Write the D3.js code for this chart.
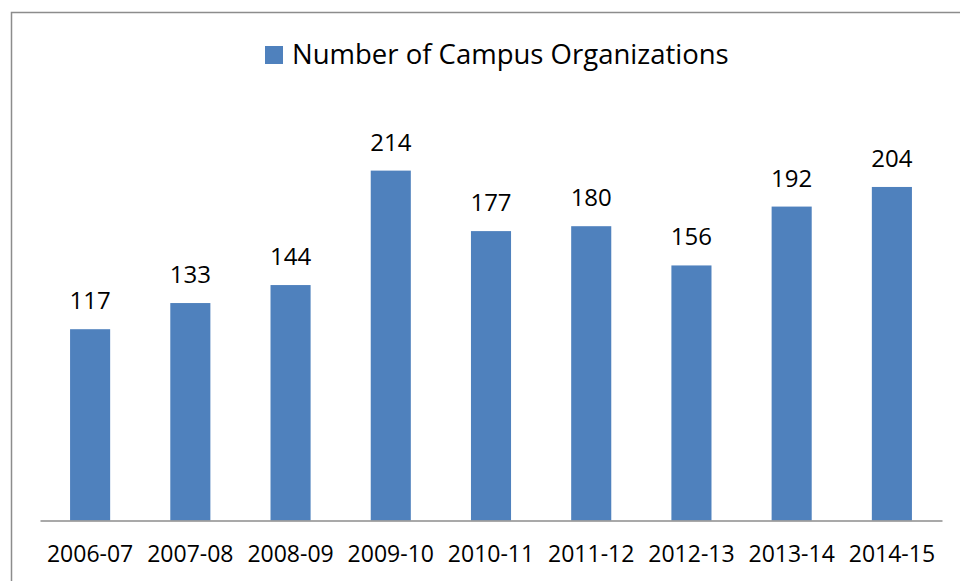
<!DOCTYPE html>
<html>
<head>
<meta charset="utf-8">
<script src="https://cdn.jsdelivr.net/npm/d3@7"></script>
<style>
  body { margin: 0; background: #fff; }
  svg text { font-family: "Open Sans", "Noto Sans", sans-serif; fill: #000; }
</style>
</head>
<body>
<div id="chart"></div>
<script>
const W = 960, H = 581;

const seasons = ["2006-07", "2007-08", "2008-09", "2009-10", "2010-11", "2011-12", "2012-13", "2013-14", "2014-15"];
const orgCounts = [117, 133, 144, 214, 177, 180, 156, 192, 204];
const seriesName = "Number of Campus Organizations";

const svg = d3.select("#chart").append("svg")
    .attr("width", W)
    .attr("height", H);

// outer chart frame (runs off the right/bottom edge)
svg.append("rect")
    .attr("x", 11.5)
    .attr("y", 12.5)
    .attr("width", W + 20)
    .attr("height", H + 20)
    .attr("fill", "none")
    .attr("stroke", "#8c8c8c")
    .attr("stroke-width", 1.5);

const x = d3.scaleBand()
    .domain(seasons)
    .range([40, 942])
    .paddingInner(0.6)
    .paddingOuter(0.3);

const y = d3.scaleLinear()
    .domain([0, 250])
    .range([520.5, 111.75]);

// bars
svg.append("g")
    .selectAll("rect")
    .data(orgCounts)
    .enter()
    .append("rect")
    .attr("x", (d, i) => x(seasons[i]))
    .attr("y", d => y(d))
    .attr("width", x.bandwidth())
    .attr("height", d => y(0) - y(d))
    .attr("fill", "#4f81bd");

// value labels
svg.append("g")
    .selectAll("text")
    .data(orgCounts)
    .enter()
    .append("text")
    .attr("x", (d, i) => x(seasons[i]) + x.bandwidth() / 2)
    .attr("y", d => y(d) - 20)
    .attr("text-anchor", "middle")
    .attr("font-size", "24px")
    .text(d => d);

// x axis
const xAxis = svg.append("g")
    .attr("transform", `translate(0,${y(0)})`)
    .call(d3.axisBottom(x).tickSize(0).tickPadding(25));
xAxis.select(".domain")
    .attr("stroke", "#8c8c8c")
    .attr("stroke-width", 1.5);
xAxis.selectAll("text")
    .attr("font-family", "Open Sans")
    .attr("font-size", "23px")
    .attr("fill", "#000");

// legend
const legend = svg.append("g");
legend.append("rect")
    .attr("x", 265)
    .attr("y", 46)
    .attr("width", 18)
    .attr("height", 18)
    .attr("fill", "#4f81bd");
legend.append("text")
    .attr("x", 292)
    .attr("y", 64)
    .attr("font-size", "27.5px")
    .text(seriesName);
</script>
</body>
</html>
